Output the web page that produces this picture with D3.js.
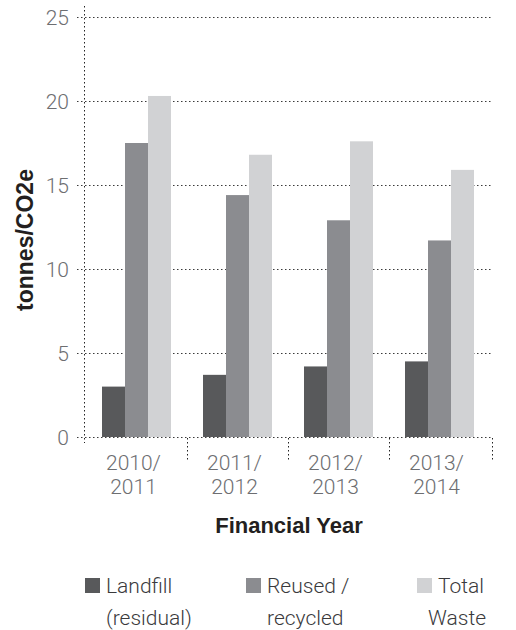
<!DOCTYPE html>
<html><head><meta charset="utf-8">
<script src="https://cdn.jsdelivr.net/npm/d3@7/dist/d3.min.js"></script>
<style>
html,body{margin:0;padding:0;background:#fff;}
</style></head>
<body><svg id="c" width="516" height="630"></svg>
<script>
const categories = [["2010/","2011"],["2011/","2012"],["2012/","2013"],["2013/","2014"]];
const seriesNames = [["Landfill","(residual)"],["Reused /","recycled"],["Total","Waste"]];
const landfill = [3.0, 3.7, 4.2, 4.5];
const reused = [17.5, 14.4, 12.9, 11.7];
const total = [20.3, 16.8, 17.6, 15.9];
const yTicks = [0, 5, 10, 15, 20, 25];
const colors = ["#58595b", "#8b8c90", "#d1d2d4"];
const series = [landfill, reused, total];

const LIGHT = "'Helvetica Neue',Roboto,'Liberation Sans',sans-serif";
const BOLD = "'Liberation Sans',Arial,sans-serif";

const svg = d3.select("#c");
const catKeys = categories.map(c => c.join(""));
const x = d3.scaleBand().domain(catKeys).range([86, 490]).paddingInner(0).paddingOuter(0);
const y = d3.scaleLinear().domain([0, 25]).range([437, 17]);
const inner = d3.scaleBand().domain(d3.range(series.length)).range([0, 69]);

// gridlines
svg.append("g").selectAll("line").data(yTicks).join("line")
  .attr("x1", 77).attr("x2", 493)
  .attr("y1", d => y(d) + 0.5).attr("y2", d => y(d) + 0.5)
  .attr("stroke", "#3a3a3a").attr("stroke-width", 1).attr("stroke-dasharray", "1.5,2.5");

// y axis line
svg.append("line").attr("x1", 84.5).attr("x2", 84.5).attr("y1", 6).attr("y2", 443)
  .attr("stroke", "#222").attr("stroke-width", 1).attr("stroke-dasharray", "1.5,2.5");

// category separators
const seps = x.domain().slice(1).map(k => x(k)).concat([x.range()[1] + 2]);
svg.append("g").selectAll("line").data(seps).join("line")
  .attr("x1", d => d + 0.5).attr("x2", d => d + 0.5).attr("y1", 438).attr("y2", 460)
  .attr("stroke", "#222").attr("stroke-width", 1).attr("stroke-dasharray", "1.5,2.5");

// bars
series.forEach((vals, si) => {
  svg.append("g").selectAll("rect").data(vals).join("rect")
    .attr("x", (d, i) => x(catKeys[i]) + (x.bandwidth() - 69) / 2 + inner(si))
    .attr("width", inner.bandwidth())
    .attr("y", d => y(d))
    .attr("height", d => y(0) - y(d))
    .attr("fill", colors[si]);
});

// y tick labels
const yAxis = d3.axisLeft(y).tickValues(yTicks).tickSize(0).tickPadding(0);
const ya = svg.append("g").attr("transform", "translate(69,0)").call(yAxis);
ya.select(".domain").remove();
ya.selectAll("text").attr("fill", "#6d6e71").attr("dy", "0.36em")
  .style("font-size", "21px").style("font-weight", 300).style("font-family", LIGHT);

// x tick labels
const xl = svg.append("g");
categories.forEach((c, i) => {
  const cx = x(catKeys[i]) + x.bandwidth() / 2 - 3;
  c.forEach((line, li) => {
    xl.append("text").attr("x", cx).attr("y", 470 + li * 24)
      .attr("text-anchor", "middle").attr("fill", "#6d6e71")
      .style("font-size", "21px").style("font-weight", 300).style("font-family", LIGHT)
      .text(line);
  });
});

// axis titles
svg.append("text").attr("transform", "translate(33,240) rotate(-90)")
  .attr("text-anchor", "middle").attr("fill", "#231f20")
  .style("font-size", "23px").style("font-weight", 700).style("font-family", BOLD)
  .text("tonnes/CO2e");
svg.append("text").attr("x", 289).attr("y", 533)
  .attr("text-anchor", "middle").attr("fill", "#231f20")
  .style("font-size", "22px").style("font-weight", 700).style("font-family", BOLD)
  .text("Financial Year");

// legend
const legX = [85, 246, 417];
const leg = svg.append("g");
seriesNames.forEach((nm, i) => {
  leg.append("rect").attr("x", legX[i]).attr("y", 578).attr("width", 15).attr("height", 15)
    .attr("fill", colors[i]);
  nm.forEach((line, li) => {
    leg.append("text").attr("x", legX[i] + 21 - (i === 2 && li === 1 ? 10 : 0)).attr("y", 593 + li * 32)
      .attr("fill", "#3a3a3c")
      .style("font-size", "21px").style("font-weight", 300).style("font-family", LIGHT)
      .text(line);
  });
});
</script></body></html>
